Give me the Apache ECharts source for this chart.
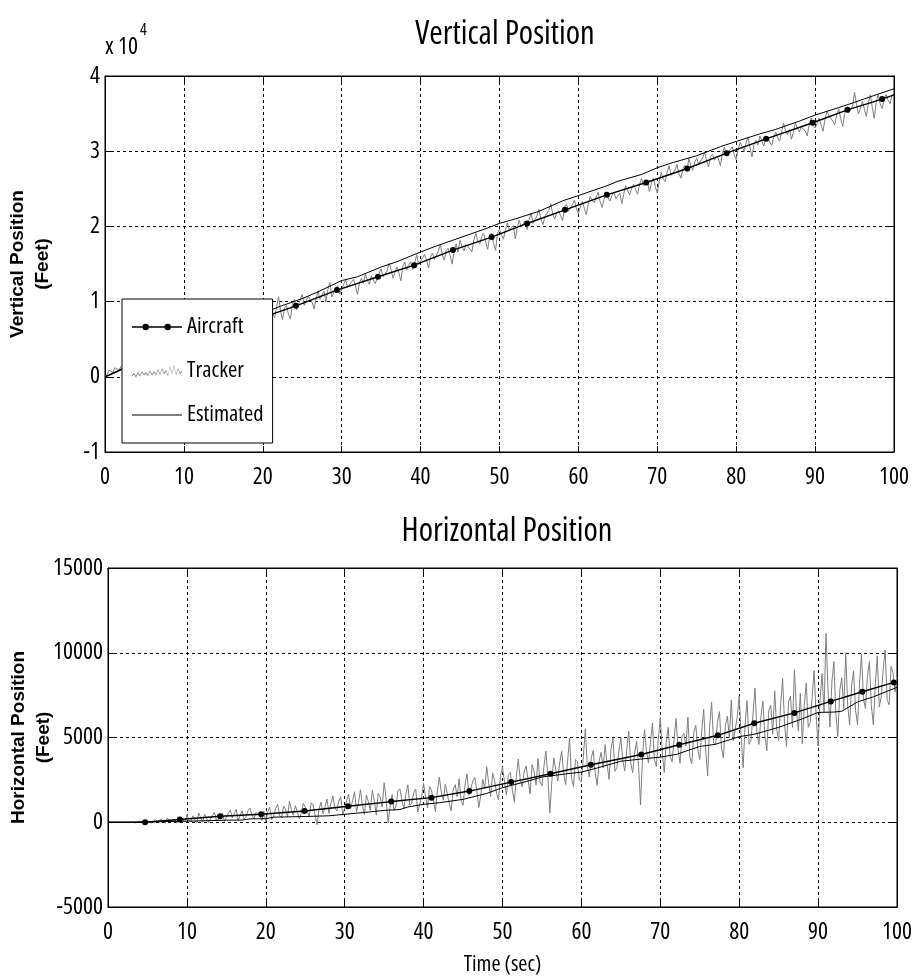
<!DOCTYPE html>
<html><head><meta charset="utf-8">
<script src="https://cdn.jsdelivr.net/npm/echarts@6/dist/echarts.min.js"></script>
<style>html,body{margin:0;padding:0;background:#fff}#c{width:912px;height:978px}</style>
</head><body><div id="c"></div>
<script>
// ---------- data ----------
const seriesNames = ['Aircraft', 'Tracker', 'Estimated'];
const xTicks = [0, 10, 20, 30, 40, 50, 60, 70, 80, 90, 100];
const topYTicks = [-1, 0, 1, 2, 3, 4];          // x 10^4 feet
const bottomYTicks = [-5000, 0, 5000, 10000, 15000];

// Vertical position (feet)
const aircraftTopTime  = [0, 4.3, 9.3, 14.3, 19.2, 24.2, 29.4, 34.6, 39.2, 44.1, 49.0, 53.5, 58.3, 63.6, 68.6, 73.8, 78.8, 83.8, 89.7, 94.1, 98.5, 100];
const aircraftTopValue = [0, 2090, 3940, 5790, 7600, 9440, 11530, 13300, 14850, 16850, 18580, 20390, 22200, 24200, 25840, 27700, 29740, 31650, 33780, 35500, 36930, 37500];
const trackerStep = 0.25;   // seconds between tracker samples
const trackerTopStart = 0;
const trackerTopValue = [
 0,300,885,900,570,1200,1455,900,1040,1700,1925,1300,1210,2100,2095,1600,2580,2300,1665,2200,
 2650,2200,1935,2900,2920,2500,3605,3000,2790,3500,3375,2900,2660,3700,4045,3500,4030,3800,3615,4300,
 4800,4300,4185,4700,4870,4400,4055,5000,5440,4900,5125,5600,4910,5700,6295,5500,5380,6100,6065,5700,
 5550,6300,6635,6500,6320,6900,7205,6600,5890,6800,7275,7100,7660,7000,7145,7900,8230,7500,7315,8200,
 8700,7600,7085,8900,9670,8500,7855,9300,10640,8700,7625,9100,9510,8300,7695,9600,10280,8900,9165,10300,
 10950,9500,9235,10700,10520,9900,9005,10400,11390,10300,10875,11400,9960,11600,12545,10600,10730,11800,12115,11000,
 10800,12300,12885,11900,11670,12600,12955,12100,10940,12500,13125,12400,13710,12800,12295,13400,13380,12400,12165,13800,
 14350,13300,13135,14100,15120,14300,13105,13900,14590,13800,12775,14700,15260,14200,14845,15300,14230,15100,16215,15000,
 14900,15800,16285,15500,14470,15900,16455,15600,15840,16700,17625,16200,15510,16800,17095,16100,14980,16700,17665,16600,
 18150,17300,16735,17600,17820,17000,16605,18200,19090,18000,17675,18700,19060,17900,16945,18600,19130,17700,16815,19100,
 19600,18900,18285,19600,20470,19500,19255,20100,18340,19800,20825,19900,20310,20700,19595,20900,21780,20400,20165,21400,
 22250,21000,20235,21300,21720,22100,23005,21600,20990,21800,22075,21400,20760,22600,22945,22000,21930,22900,23515,22300,
 21700,22600,23285,22400,21570,23000,23955,23500,23140,23900,24525,23300,22510,23600,24595,23800,23380,24100,24565,23700,
 23950,24400,23035,24300,25420,24700,24205,25100,25590,24900,24275,25600,26360,25400,25445,26000,24630,25700,26415,25300,
 24400,26000,27185,26300,25970,27200,28055,26800,26640,27500,28225,27000,26410,27700,28095,27300,29080,28000,27465,28600,
 29050,28300,28035,29100,29920,28700,27905,29300,29590,28800,29275,29000,28060,29700,30545,29600,29430,30200,30615,29500,
 28900,30300,31185,30600,29970,31100,31855,30500,29240,30900,31425,30800,32010,31400,30695,31600,31880,31200,30765,31900,
 32550,31800,31335,32600,33720,32800,32205,32900,31590,32500,33775,33100,32560,33200,33445,32700,32030,33500,34415,33400,
 33100,33700,34385,33500,32670,34200,35355,34700,34340,34000,33525,34900,35610,34300,33295,35000,35780,35100,34865,36000,
 37850,36200,34935,35700,36620,35600,34605,36400,37490,35800,34375,36600,37560,36300,35645,36900,37530,36800,36315,37500,
 37300];
const estimatedTopTime  = [0, 1, 2, 5, 10, 15, 20, 22, 25, 27, 30, 32, 35, 37, 40, 42, 45, 48, 50, 52, 55, 58, 60, 63.6, 65, 68, 70, 72, 75, 78, 80, 83, 85, 88, 90, 93, 95, 98, 100];
const estimatedTopValue = [0, 400, 900, 2300, 4500, 6500, 8400, 9300, 10400, 11300, 12800, 13300, 14600, 15300, 16600, 17400, 18500, 19600, 20400, 21000, 22000, 23400, 24100, 25400, 26000, 26900, 27800, 28500, 29400, 30600, 31300, 32300, 32900, 34000, 34800, 35800, 36500, 37600, 38300];

// Horizontal position (feet)
const aircraftBottomTime  = [0, 4.7, 9.1, 14.2, 19.4, 24.9, 30.4, 35.9, 41.0, 45.8, 51.1, 56.1, 61.2, 67.6, 72.4, 77.3, 81.9, 87.0, 91.6, 95.6, 99.6];
const aircraftBottomValue = [0, 0, 160, 350, 470, 660, 940, 1220, 1450, 1840, 2370, 2860, 3390, 4000, 4570, 5130, 5840, 6450, 7130, 7700, 8250];
const trackerBottomStart = 3;
const trackerBottomValue = [
 10,-20,-40,30,60,-10,20,70,
 90,150,-35,-80,160,40,-35,190,120,-60,235,160,60,180,215,-30,10,250,205,20,
 430,150,20,380,310,-50,550,260,10,480,420,-20,230,410,590,90,170,300,540,60,
 170,520,730,250,510,760,100,410,670,160,350,690,840,420,200,580,610,380,120,650,
 40,620,890,150,370,820,1060,380,260,950,780,300,1240,720,410,980,1030,200,540,1110,
 1220,680,300,1150,1020,420,-150,780,1190,500,900,1380,520,1100,1550,840,670,1250,1500,410,
 420,1300,1650,780,1270,1800,600,1150,1920,980,450,1600,1220,700,1900,1250,420,1700,1500,900,
 2330,1400,-50,900,1620,700,950,1850,1970,1300,790,1650,2210,1000,1130,1750,1960,600,580,1500,
 2300,1500,840,2100,1880,1200,620,1900,2660,1750,1300,2250,2340,1100,680,1950,2220,1500,2560,1300,
 1000,2200,2850,1600,1490,2450,2640,1850,880,1600,2530,2000,3270,2300,1520,2900,2460,1700,1310,2750,
 3250,2400,1600,2800,2940,1900,1190,2700,3730,2500,2080,3000,3320,2450,1670,3400,3010,2200,3760,2400,
 2150,3300,4200,2700,540,2400,3790,3100,2430,3500,4180,2900,2220,3600,4970,2600,2110,3700,3560,2500,
 2370,3900,5520,3300,2670,3800,4230,2900,2180,3600,4130,3200,4580,3450,2530,4300,4990,3000,3240,4200,
 4980,3600,3030,4300,5370,3500,2920,4100,4770,3300,1020,3900,5460,4200,3510,4700,5860,3700,3300,4900,
 6180,4100,2940,4700,5600,3900,3560,4900,6120,4300,3480,5100,5240,4500,6200,3800,3460,5300,5720,4300,
 3700,5400,6670,4300,2730,5600,7100,4700,4560,5900,6530,4400,3790,5700,6260,5000,7220,4800,4690,6200,
 7450,5000,3220,5800,7180,4600,4850,6400,7920,5300,4590,6200,7150,5100,4220,6600,6890,5200,7750,5500,
 4820,6900,8490,5800,4460,7100,7430,5600,9000,6600,5370,7600,4640,6900,8210,5600,5880,7400,8950,6300,
 4500,7200,8770,6500,11140,7900,5610,8300,9480,6400,5050,7800,8520,6700,9990,6900,5760,8100,8930,6600,
 5770,8200,9940,7300,6710,8600,9480,6900,5750,8100,9820,6800,7390,9000,10160,7200,6930,9200,8800,7700,
 8570];
const estimatedBottomTime  = [0, 3, 10, 15, 17, 18, 20, 21, 25, 28, 30, 33, 35, 37, 38, 40, 42, 45, 48, 50, 53, 55, 58, 60, 62, 65, 68, 70, 72, 75, 77, 80, 82, 85, 88, 90, 92, 93, 95, 97, 100];
const estimatedBottomValue = [0, 0, 60, 120, 130, 200, 210, 300, 340, 380, 470, 600, 700, 750, 900, 1060, 1150, 1350, 1700, 2040, 2400, 2670, 2850, 2960, 3200, 3600, 3750, 3840, 4000, 4470, 4600, 5050, 5200, 5600, 6100, 6480, 6500, 6550, 7100, 7400, 7960];

// ---------- font selection (narrowest installed face) ----------
const cv = document.createElement('canvas').getContext('2d');
function tw(font, text) { cv.font = font; return cv.measureText(text).width; }
function hasFamily(f) {
  const t = 'mmmmmwwwwlliI10';
  return tw('40px "' + f + '", monospace', t) !== tw('40px monospace', t) ||
         tw('40px "' + f + '", serif', t) !== tw('40px serif', t);
}
let NARROW = '"Liberation Sans", Arial, sans-serif';
let NSTYLE = 'normal';
if (hasFamily('Liberation Sans Narrow')) NARROW = '"Liberation Sans Narrow", sans-serif';
else if (hasFamily('Arial Narrow')) NARROW = '"Arial Narrow", sans-serif';
else {
  let best = tw('40px ' + NARROW, 'Vertical Position') * 0.93;
  const cands = ['Noto Sans', 'Open Sans', 'Roboto', 'Inter', 'DejaVu Sans'];
  for (const f of cands) {
    if (!hasFamily(f)) continue;
    for (const st of ['extra-condensed', 'condensed']) {
      cv.font = '40px "' + f + '"';
      const b = tw(st + ' 40px "' + f + '"', 'Vertical Position');
      if (b < best) { best = b; NARROW = '"' + f + '", sans-serif'; NSTYLE = st; }
    }
  }
}
function fit(text, targetW, maxSize) {
  const w100 = tw(NSTYLE + ' normal 100px ' + NARROW, text);
  return Math.min(maxSize, Math.round(targetW / w100 * 100 * 2) / 2);
}
const titleSize  = fit('Vertical Position', 180, 40);
const tickSize   = fit('100', 30, 27);
const legendSize = fit('Estimated', 76, 28);
const timeSize   = fit('Time (sec)', 78, 27);
const expSize    = fit('x 10', 33, 27);
const BOLD = '"Liberation Sans", Arial, sans-serif';

// ---------- chart ----------
const chart = echarts.init(document.getElementById('c'), null, {renderer: 'canvas'});

const pair = (ts, vs) => ts.map((t, i) => [t, vs[i]]);
const stepped = (start, vs) => vs.map((v, i) => [start + i * trackerStep, v]);
const withMarkers = (ts, vs) => ts.map((t, i) => {
  const edge = (t === 0 || t === 100);
  return edge ? {value: [t, vs[i]], symbol: 'none'} : {value: [t, vs[i]]};
});

const nText = (size, extra) => Object.assign({color: '#000', fontFamily: NARROW, fontStyle: NSTYLE, fontWeight: 'normal', fontSize: size}, extra || {});
const gridLine = {show: true, lineStyle: {color: '#000', width: 1, type: [3, 3]}};
const xLabelMargin = Math.max(4, Math.round(25 - tickSize / 2));
function xAx(gi, pos, extra) {
  return Object.assign({
    type: 'value', gridIndex: gi, position: pos, min: 0, max: 100, interval: 10,
    axisLine: {show: true, onZero: false, lineStyle: {color: '#000', width: 1}},
    axisTick: {show: true, inside: true, length: 6, lineStyle: {color: '#000'}},
    axisLabel: Object.assign({show: pos === 'bottom', margin: xLabelMargin}, nText(tickSize)),
    splitLine: pos === 'bottom' ? gridLine : {show: false}
  }, extra || {});
}
function yAx(gi, pos, min, max, interval, extra) {
  return Object.assign({
    type: 'value', gridIndex: gi, position: pos, min: min, max: max, interval: interval,
    axisLine: {show: true, onZero: false, lineStyle: {color: '#000', width: 1}},
    axisTick: {show: true, inside: true, length: 6, lineStyle: {color: '#000'}},
    axisLabel: Object.assign({show: pos === 'left', margin: 5, formatter: v => String(v)}, nText(tickSize)),
    splitLine: pos === 'left' ? gridLine : {show: false}
  }, extra || {});
}

const yNameStyle = {color: '#000', fontFamily: BOLD, fontWeight: 'bold', fontSize: 19, lineHeight: 25, align: 'center'};

const SPECK = ' M0,0 L0.15,0 L0,0.15 Z M50,14 L49.85,14 L50,13.85 Z';
const aircraftIcon = 'path://M0,6.3 L10.5,6.3 L10.5,7.7 L0,7.7 Z M16.9,6.3 L32.5,6.3 L32.5,7.7 L16.9,7.7 Z M38.9,6.3 L50,6.3 L50,7.7 L38.9,7.7 Z' +
  ' M10.5,7 A3.2,3.2 0 1,1 16.9,7 A3.2,3.2 0 1,1 10.5,7 Z M32.5,7 A3.2,3.2 0 1,1 38.9,7 A3.2,3.2 0 1,1 32.5,7 Z' + SPECK;
const trackerIcon = 'path://M0,11 L2,9 L4,12 L6,8 L8,11 L10,7 L12,10 L14,8 L16,11 L18,6 L20,10 L22,7 L24,10 L26,5 L28,10 L30,4 L32,9 L34,6 L36,11 L38,2 L40,9 L42,1 L44,10 L46,4 L48,9 L50,6' +
  ' L50,7.4 L48,10.4 L46,5.4 L44,11.4 L42,2.4 L40,10.4 L38,3.4 L36,12.4 L34,7.4 L32,10.4 L30,5.4 L28,11.4 L26,6.4 L24,11.4 L22,8.4 L20,11.4 L18,7.4 L16,12.4 L14,9.4 L12,11.4 L10,8.4 L8,12.4 L6,9.4 L4,13.4 L2,10.4 L0,12.4 Z' + SPECK;
const estimatedIcon = 'path://M0,6.4 L50,6.4 L50,7.6 L0,7.6 Z' + SPECK;

const option = {
  animation: false,
  backgroundColor: '#fff',
  title: [
    {text: 'Vertical Position', left: 500, top: 33 - titleSize * 0.6, textAlign: 'center',
     textStyle: nText(titleSize)},
    {text: 'Horizontal Position', left: 502, top: 530 - titleSize * 0.6, textAlign: 'center',
     textStyle: nText(titleSize)}
  ],
  graphic: [
    {type: 'text', left: 105, top: 50 - expSize * 0.62,
     style: {text: 'x 10', fill: '#000', fontFamily: NARROW, fontStyle: NSTYLE, fontSize: expSize}},
    {type: 'text', left: 107 + tw(NSTYLE + ' normal ' + expSize + 'px ' + NARROW, 'x 10'), top: 33 - expSize * 0.45,
     style: {text: '4', fill: '#000', fontFamily: NARROW, fontStyle: NSTYLE, fontSize: Math.round(expSize * 0.7)}}
  ],
  legend: {
    data: [
      {name: 'Aircraft', icon: aircraftIcon},
      {name: 'Tracker', icon: trackerIcon},
      {name: 'Estimated', icon: estimatedIcon}
    ],
    orient: 'vertical', left: 122, top: 299,
    padding: [16, 9, 16, 10], itemGap: 20, itemWidth: 50, itemHeight: 14,
    backgroundColor: '#fff', borderColor: '#000', borderWidth: 1, borderRadius: 0,
    selectedMode: false,
    textStyle: nText(legendSize, {lineHeight: 24})
  },
  grid: [
    {left: 105, right: 18, top: 76, bottom: 526, show: true, borderColor: '#000', borderWidth: 1,
     outerBoundsMode: 'none', containLabel: false},
    {left: 108, right: 15, top: 568, bottom: 71, show: true, borderColor: '#000', borderWidth: 1,
     outerBoundsMode: 'none', containLabel: false}
  ],
  xAxis: [
    xAx(0, 'bottom'),
    xAx(0, 'top'),
    xAx(1, 'bottom', {name: 'Time (sec)', nameLocation: 'middle', nameGap: Math.round(58 - timeSize / 2),
      nameMoveOverlap: false, nameTextStyle: nText(timeSize)}),
    xAx(1, 'top')
  ],
  yAxis: [
    yAx(0, 'left', -10000, 40000, 10000, {
      axisLabel: Object.assign({show: true, margin: 5,
        formatter: v => String(topYTicks[Math.round(v / 10000) + 1])}, nText(tickSize)),
      name: 'Vertical Position\n(Feet)', nameLocation: 'middle', nameRotate: 90, nameGap: 50,
      nameMoveOverlap: false, nameTextStyle: yNameStyle}),
    yAx(0, 'right', -10000, 40000, 10000),
    yAx(1, 'left', bottomYTicks[0], bottomYTicks[bottomYTicks.length - 1], 5000, {
      name: 'Horizontal Position\n(Feet)', nameLocation: 'middle', nameRotate: 90, nameGap: 52,
      nameMoveOverlap: false, nameTextStyle: yNameStyle}),
    yAx(1, 'right', -5000, 15000, 5000)
  ],
  series: [
    {name: 'Tracker', type: 'line', xAxisIndex: 0, yAxisIndex: 0, z: 1,
     data: stepped(trackerTopStart, trackerTopValue), showSymbol: false, symbol: 'none',
     lineStyle: {color: '#7f7f7f', width: 1}, itemStyle: {color: '#7f7f7f'}},
    {name: 'Estimated', type: 'line', xAxisIndex: 0, yAxisIndex: 0, z: 2,
     data: pair(estimatedTopTime, estimatedTopValue), showSymbol: false, symbol: 'none',
     lineStyle: {color: '#000', width: 1}, itemStyle: {color: '#000'}},
    {name: 'Aircraft', type: 'line', xAxisIndex: 0, yAxisIndex: 0, z: 3,
     data: withMarkers(aircraftTopTime, aircraftTopValue), symbol: 'circle', symbolSize: 6, showAllSymbol: true,
     lineStyle: {color: '#000', width: 1.4}, itemStyle: {color: '#000'}},

    {name: 'Tracker', type: 'line', xAxisIndex: 2, yAxisIndex: 2, z: 1,
     data: stepped(trackerBottomStart, trackerBottomValue), showSymbol: false, symbol: 'none',
     lineStyle: {color: '#7f7f7f', width: 1}, itemStyle: {color: '#7f7f7f'}},
    {name: 'Estimated', type: 'line', xAxisIndex: 2, yAxisIndex: 2, z: 2,
     data: pair(estimatedBottomTime, estimatedBottomValue), showSymbol: false, symbol: 'none',
     lineStyle: {color: '#000', width: 1}, itemStyle: {color: '#000'}},
    {name: 'Aircraft', type: 'line', xAxisIndex: 2, yAxisIndex: 2, z: 3,
     data: withMarkers(aircraftBottomTime, aircraftBottomValue), symbol: 'circle', symbolSize: 6, showAllSymbol: true,
     lineStyle: {color: '#000', width: 1.4}, itemStyle: {color: '#000'}}
  ]
};
chart.setOption(option);
</script></body></html>
